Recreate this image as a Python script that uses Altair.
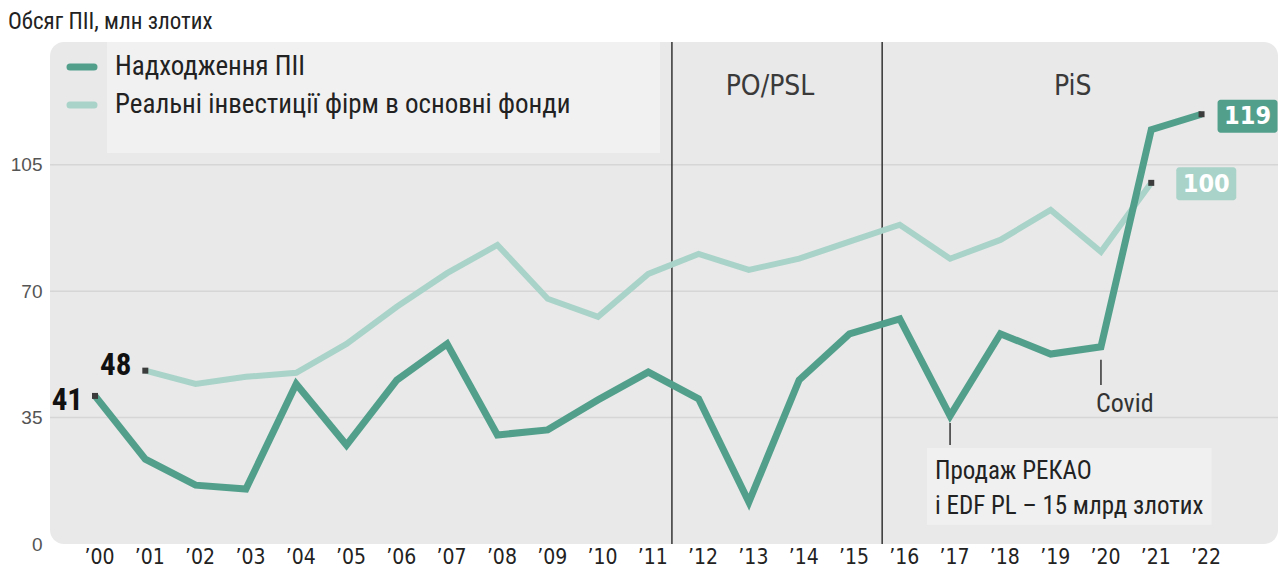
import json
import altair as alt
import pandas as pd

# ---------------- data ----------------
years = ["’00", "’01", "’02", "’03", "’04", "’05", "’06", "’07", "’08", "’09", "’10", "’11",
         "’12", "’13", "’14", "’15", "’16", "’17", "’18", "’19", "’20", "’21", "’22"]
fdi = [41, 23.5, 16.3, 15.2, 44.3, 27.4, 45.4, 55.4, 30.2, 31.6, 39.9, 47.6,
       40.2, 11.6, 45.4, 58.2, 62.3, 35.5, 58.2, 52.6, 54.6, 114.7, 119]
invest = [None, 48, 44.3, 46.3, 47.4, 55.4, 65.7, 75.0, 82.8, 67.9, 62.9, 74.8,
          80.3, 75.9, 79.0, 83.7, 88.4, 79.0, 84.2, 92.5, 80.9, 100, None]
series_names = ["Надходження ПІІ", "Реальні інвестиції фірм в основні фонди"]
y_ticks = [0, 35, 70, 105]
period_names = ["PO/PSL", "PiS"]
period_bounds = [11.47, 15.65]
period_label_pos = [13.42, 19.44]
title_text = "Обсяг ПІІ, млн злотих"
covid_text = "Covid"
sale_lines = ["Продаж РЕКАО", "і EDF PL – 15 млрд злотих"]

DARK = "#52a08b"
LIGHT = "#a9d3c8"
MARK = "#3c3c3c"
NARROW = "Liberation Sans Narrow, Arial Narrow, Roboto Condensed, DejaVu Sans Condensed, sans-serif"
DIN = "DejaVu Sans Condensed, Liberation Sans Narrow, sans-serif"

rows = []
for i, v in enumerate(fdi):
    rows.append({"idx": i, "value": v, "series": series_names[0]})
for i, v in enumerate(invest):
    if v is not None:
        rows.append({"idx": i, "value": v, "series": series_names[1]})
df = pd.DataFrame(rows)
df_fdi = df[df.series == series_names[0]]
df_inv = df[df.series == series_names[1]]

W, H = 1228, 502
x_scale = alt.Scale(domain=[-0.895, 23.52], nice=False, zero=False)
y_scale = alt.Scale(domain=[0, 139.0], nice=False, zero=True)
label_expr = json.dumps(years, ensure_ascii=False) + "[datum.value]"

x_axis = alt.Axis(values=list(range(len(years))), labelExpr=label_expr, grid=False,
                  domain=False, ticks=False, labelFont=DIN, labelFontSize=21,
                  labelColor="#222222", labelPadding=2, labelOffset=4, title=None)
y_axis = alt.Axis(values=y_ticks, grid=False, domain=False, ticks=False,
                  labelFont="Liberation Sans, Arial, sans-serif", labelFontSize=19,
                  labelColor="#555555", labelPadding=8, title=None)


def XQ(field):
    return alt.X(field, type="quantitative", scale=x_scale, axis=x_axis)


def YQ(field):
    return alt.Y(field, type="quantitative", scale=y_scale, axis=y_axis)


# background boxes (legend / annotation)
legend_bg = alt.Chart(pd.DataFrame({"k": [0]})).mark_rect(color="#f1f1f1").encode(
    x=alt.value(57), x2=alt.value(610), y=alt.value(0), y2=alt.value(111))

# gridlines
grid_df = pd.DataFrame({"value": y_ticks[1:]})
grid = alt.Chart(grid_df).mark_rule(color="#d6d6d6", strokeWidth=1.5).encode(y=YQ("value"))

# annotation box for the sale
sale_box_df = pd.DataFrame({"x0": [16.54], "x1": [22.2], "y0": [26.6], "y1": [5.3]})
sale_box = alt.Chart(sale_box_df).mark_rect(color="#f0f0f0").encode(
    x=XQ("x0"), x2="x1:Q", y=YQ("y0"), y2="y1:Q")

# period dividers
per_df = pd.DataFrame({"b": period_bounds})
dividers = alt.Chart(per_df).mark_rule(color="#333333", strokeWidth=1.5).encode(
    x=XQ("b"), y=alt.value(0), y2=alt.value(H))
per_lab_df = pd.DataFrame({"pos": period_label_pos, "name": period_names})
per_labels = alt.Chart(per_lab_df).mark_text(font=DIN, fontSize=28, fontWeight=300,
                                             color="#3a3a3a", baseline="middle").encode(
    x=XQ("pos"), y=alt.value(45), text="name:N")

# lines
line_inv = alt.Chart(df_inv).mark_line(color=LIGHT, strokeWidth=6, strokeJoin="miter").encode(
    x=XQ("idx"), y=YQ("value"), order="idx:Q")
line_fdi = alt.Chart(df_fdi).mark_line(color=DARK, strokeWidth=7, strokeJoin="miter").encode(
    x=XQ("idx"), y=YQ("value"), order="idx:Q")

# end markers
ends_df = pd.DataFrame([
    {"idx": 0, "value": fdi[0]},
    {"idx": 1, "value": invest[1]},
    {"idx": 21, "value": invest[21]},
    {"idx": 22, "value": fdi[22]},
])
markers = alt.Chart(ends_df).mark_square(color=MARK, size=36, opacity=1).encode(
    x=XQ("idx"), y=YQ("value"))

# start labels
start41 = alt.Chart(pd.DataFrame({"idx": [0], "value": [fdi[0]]})).mark_text(
    font=NARROW, fontSize=31, fontWeight="bold", color="#111111", align="right",
    baseline="middle", dx=-12, dy=5).encode(
    x=XQ("idx"), y=YQ("value"), text=alt.Text("value:Q", format="d"))
start48 = alt.Chart(pd.DataFrame({"idx": [1], "value": [invest[1]]})).mark_text(
    font=NARROW, fontSize=31, fontWeight="bold", color="#111111", align="right",
    baseline="middle", dx=-14, dy=-5).encode(
    x=XQ("idx"), y=YQ("value"), text=alt.Text("value:Q", format="d"))

# end label boxes
end119 = pd.DataFrame({"idx": [22], "value": [fdi[22]]})
end100 = pd.DataFrame({"idx": [21], "value": [invest[21]]})
box119 = alt.Chart(end119).mark_rect(color=DARK, width=60, height=33, cornerRadius=3, xOffset=46, yOffset=2).encode(
    x=XQ("idx"), y=YQ("value"))
txt119 = alt.Chart(end119).mark_text(font=DIN, fontSize=25, fontWeight="bold", color="white",
                                     baseline="middle", xOffset=46, yOffset=2).encode(
    x=XQ("idx"), y=YQ("value"), text=alt.Text("value:Q", format="d"))
box100 = alt.Chart(end100).mark_rect(color=LIGHT, width=60, height=33, cornerRadius=3, xOffset=55, yOffset=1).encode(
    x=XQ("idx"), y=YQ("value"))
txt100 = alt.Chart(end100).mark_text(font=DIN, fontSize=25, fontWeight="bold", color="white",
                                     baseline="middle", xOffset=55, yOffset=1).encode(
    x=XQ("idx"), y=YQ("value"), text=alt.Text("value:Q", format="d"))

# annotations
ann_ticks_df = pd.DataFrame({"idx": [20, 17], "y0": [51.0, 33.5], "y1": [44.0, 27.4]})
ann_ticks = alt.Chart(ann_ticks_df).mark_rule(color="#333333", strokeWidth=1.5).encode(
    x=XQ("idx"), y=YQ("y0"), y2="y1:Q")
covid = alt.Chart(pd.DataFrame({"idx": [20], "value": [38.8], "t": [covid_text]})).mark_text(
    font=NARROW, fontSize=26, color="#333333", align="left", baseline="middle", dx=-5).encode(
    x=XQ("idx"), y=YQ("value"), text="t:N")
sale = alt.Chart(pd.DataFrame({"idx": [16.7, 16.7], "value": [20.2, 10.5], "t": sale_lines})).mark_text(
    font=NARROW, fontSize=25, color="#222222", align="left", baseline="middle").encode(
    x=XQ("idx"), y=YQ("value"), text="t:N")

# custom legend
leg_sym_dark = alt.Chart(pd.DataFrame({"n": [series_names[0]]})).mark_rule(
    color=DARK, strokeWidth=7, strokeCap="round").encode(
    x=alt.value(20), x2=alt.value(44), y=alt.value(25))
leg_sym_light = alt.Chart(pd.DataFrame({"n": [series_names[1]]})).mark_rule(
    color=LIGHT, strokeWidth=7, strokeCap="round").encode(
    x=alt.value(20), x2=alt.value(44), y=alt.value(63))
leg_text_dark = alt.Chart(pd.DataFrame({"n": [series_names[0]]})).mark_text(
    font=NARROW, fontSize=27, color="#222222", align="left", baseline="middle").encode(
    x=alt.value(65), y=alt.value(25), text="n:N")
leg_text_light = alt.Chart(pd.DataFrame({"n": [series_names[1]]})).mark_text(
    font=NARROW, fontSize=27, color="#222222", align="left", baseline="middle").encode(
    x=alt.value(65), y=alt.value(63), text="n:N")

# title
title = alt.Chart(pd.DataFrame({"t": [title_text]})).mark_text(
    font=NARROW, fontSize=23, color="#222222", align="left", baseline="middle").encode(
    x=alt.value(-42), y=alt.value(-20), text="t:N")

chart = alt.layer(
    legend_bg, grid, sale_box, dividers, per_labels, line_inv, line_fdi, markers,
    start41, start48, box119, txt119, box100, txt100, ann_ticks, covid, sale,
    leg_sym_dark, leg_sym_light, leg_text_dark, leg_text_light, title
).properties(
    width=W, height=H,
    autosize=alt.AutoSizeParams(type="none"),
    padding={"left": 42, "top": 34, "right": 0, "bottom": 25},
).configure_view(
    fill="#e9e9e9", strokeWidth=0, cornerRadius=14
)

chart.save("out.html", embed_options={"renderer": "svg", "actions": False})
